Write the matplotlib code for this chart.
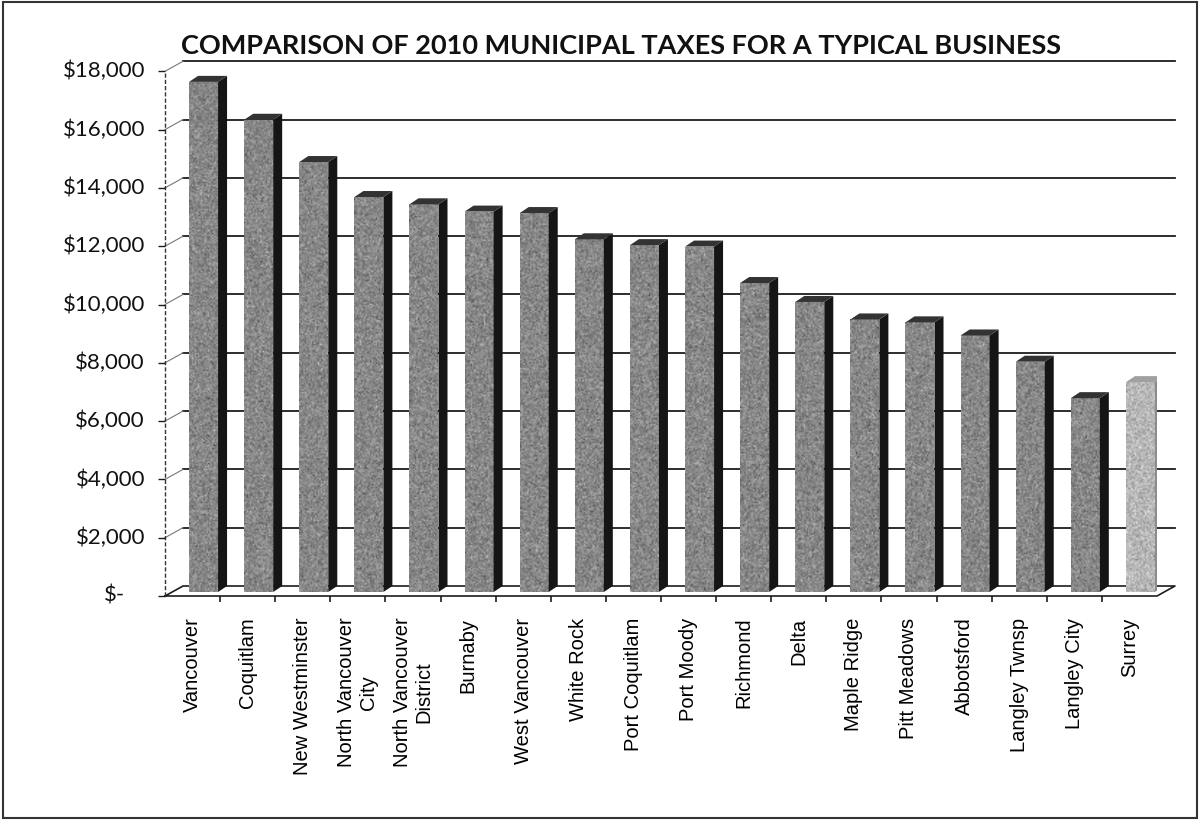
import matplotlib.pyplot as plt
import numpy as np
from matplotlib.patches import Polygon, Rectangle

plt.rcParams["font.family"] = ["Lato", "DejaVu Sans"]

cities = ["Vancouver", "Coquitlam", "New Westminster", "North Vancouver\nCity",
          "North Vancouver\nDistrict", "Burnaby", "West Vancouver", "White Rock",
          "Port Coquitlam", "Port Moody", "Richmond", "Delta", "Maple Ridge",
          "Pitt Meadows", "Abbotsford", "Langley Twnsp", "Langley City", "Surrey"]
taxes = [17500, 16200, 14750, 13550, 13300, 13050, 13000, 12100, 11900, 11850,
         10600, 9950, 9350, 9250, 8800, 7900, 6650, 7200]
y_ticks = [0, 2000, 4000, 6000, 8000, 10000, 12000, 14000, 16000, 18000]
y_labels = ["$-", "$2,000", "$4,000", "$6,000", "$8,000", "$10,000",
            "$12,000", "$14,000", "$16,000", "$18,000"]
highlight = "Surrey"
title = "COMPARISON OF 2010 MUNICIPAL TAXES FOR A TYPICAL BUSINESS"

W, H = 1201, 825
fig = plt.figure(figsize=(W / 100, H / 100), dpi=100)

# plot box in pixels (front floor edge / front value axis)
ax_l, ax_r, ax_b, ax_t = 165, 1157, 596, 71.3
ax = fig.add_axes([ax_l / W, 1 - ax_b / H, (ax_r - ax_l) / W, (ax_b - ax_t) / H])
ax.set_facecolor("none")
for s in ax.spines.values():
    s.set_visible(False)

n = len(cities)
ymax = y_ticks[-1]
sx = (ax_r - ax_l) / n          # px per category
sy = (ax_b - ax_t) / ymax       # px per dollar


def px(dx, dy):
    return dx / sx, dy / sy


wall_dx, wall_dy = px(18, 10)    # depth of the back wall
plane_dx, plane_dy = px(11, 4)   # where the bar fronts sit
dep_dx, dep_dy = px(9, 6)        # bar depth
bw = 29 / sx

x0, x1 = -0.5, n - 0.5
line_c = "#1c1c1c"

# back wall gridlines + side wall diagonals
for v in y_ticks[1:]:
    ax.plot([x0 + wall_dx, x1 + wall_dx], [v + wall_dy] * 2, color=line_c,
            lw=1.3, clip_on=False, zorder=1)
    ax.plot([x0, x0 + wall_dx], [v, v + wall_dy], color="#777777", lw=0.8,
            clip_on=False, zorder=1)

# floor
ax.plot([x0, x1, x1 + wall_dx, x0 + wall_dx, x0], [0, 0, wall_dy, wall_dy, 0],
        color=line_c, lw=1.2, clip_on=False, zorder=1)
# front value axis
ax.plot([x0, x0], [0, ymax], color="#333333", lw=1.0, ls=(0, (3, 1.5)),
        clip_on=False, zorder=1)

rng = np.random.default_rng(7)
xs = np.arange(n) + plane_dx
colors = ["#b8b8b8" if c == highlight else "#8a8a8a" for c in cities]
bars = ax.bar(xs, taxes, width=bw, bottom=plane_dy, color=colors,
              edgecolor="none", zorder=3)

for b, c in zip(bars, cities):
    light = c == highlight
    xl, yb = b.get_x(), b.get_y()
    xr, yt = xl + b.get_width(), yb + b.get_height()
    base = 0.72 if light else 0.53
    rows = max(int(b.get_height() * sy / 1.5), 2)
    tex = base + rng.normal(0, 0.07, (rows, 20))
    im = ax.imshow(tex, extent=(xl, xr, yb, yt), cmap="gray", vmin=0, vmax=1,
                   aspect="auto", interpolation="bilinear", zorder=3.1)
    im.set_clip_path(b)
    side = Polygon([(xr, yb), (xr + dep_dx, yb + dep_dy),
                    (xr + dep_dx, yt + dep_dy), (xr, yt)],
                   closed=True, fc="#8c8c8c" if light else "#151515",
                   ec="none", zorder=3.2)
    top = Polygon([(xl, yt), (xr, yt), (xr + dep_dx, yt + dep_dy),
                   (xl + dep_dx, yt + dep_dy)],
                  closed=True, fc="#a0a0a0" if light else "#333333",
                  ec="none", zorder=3.2)
    ax.add_patch(side)
    ax.add_patch(top)

ax.set_xlim(x0, x1)
ax.set_ylim(0, ymax)

# category labels
ax.set_xticks(range(n), cities, rotation=90, fontsize=14.5,
              family=["Liberation Sans"], multialignment="center")
ax.tick_params(axis="x", which="major", length=0, pad=15.5)
ax.set_xticks(np.arange(n - 1) + 0.5, minor=True)
ax.tick_params(axis="x", which="minor", length=4, width=1.2, color=line_c,
               direction="out")

# value labels
ax.set_yticks(y_ticks, [])
ax.tick_params(axis="y", length=5, width=1.0, color=line_c, direction="out")
for v, lab in zip(y_ticks, y_labels):
    off = -40 if v == 0 else -20
    ax.annotate(lab, xy=(0, v), xycoords=("axes fraction", "data"),
                xytext=(off, 0), textcoords="offset pixels",
                ha="right", va="center", fontsize=16, color="#111111")

fig.text(621 / W, 1 - 46 / H, title, ha="center", va="center",
         fontsize=19.5, fontweight="bold", color="#111111")

fig.add_artist(Rectangle((3 / W, 1 - 818 / H), 1194 / W, 816 / H,
                         transform=fig.transFigure, fill=False,
                         lw=1.5, ec="#333333"))

fig.savefig("out.png", dpi=100)
